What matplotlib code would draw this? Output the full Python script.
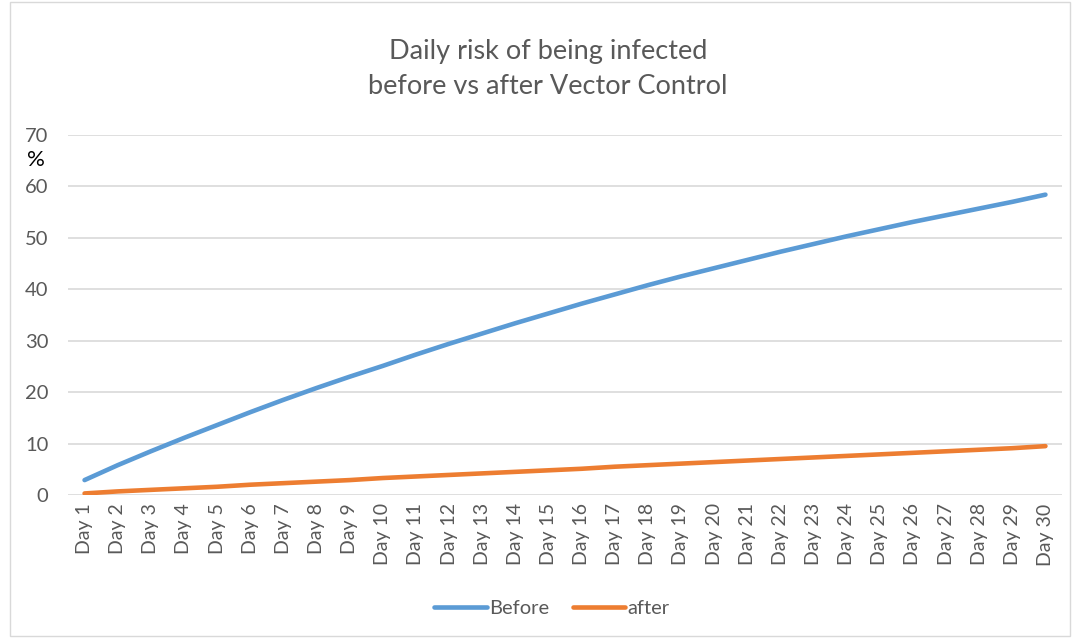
import matplotlib.pyplot as plt
from matplotlib.patches import Rectangle

plt.rcParams['font.family'] = ['Lato', 'DejaVu Sans']

# data
days = ['Day %d' % i for i in range(1, 31)]
before = [2.9, 5.8, 8.5, 11.1, 13.6, 16.1, 18.5, 20.8, 23.0, 25.1,
          27.3, 29.4, 31.4, 33.4, 35.3, 37.2, 39.0, 40.8, 42.5, 44.1,
          45.7, 47.3, 48.8, 50.3, 51.7, 53.1, 54.4, 55.7, 57.0, 58.4]
after = [0.3, 0.7, 1.0, 1.3, 1.6, 2.0, 2.3, 2.6, 2.9, 3.3,
         3.6, 3.9, 4.2, 4.5, 4.8, 5.1, 5.5, 5.8, 6.1, 6.4,
         6.7, 7.0, 7.3, 7.6, 7.9, 8.2, 8.5, 8.8, 9.1, 9.5]
yticks = [0, 10, 20, 30, 40, 50, 60, 70]

grey = '#595959'

fig = plt.figure(figsize=(10.75, 6.39), dpi=100)
ax = fig.add_axes([68 / 1075, 144 / 639, 994 / 1075, 360 / 639])

x = range(len(days))
ax.plot(x, before, color='#5B9BD5', lw=3.3, solid_capstyle='round', label='Before')
ax.plot(x, after, color='#ED7D31', lw=3.3, solid_capstyle='round', label='after')

ax.set_xlim(-0.5, len(days) - 0.5)
ax.set_ylim(0, 70)
ax.set_yticks(yticks)
ax.set_xticks(list(x))
ax.set_xticklabels(days, rotation=90, fontsize=14, color=grey)
ax.tick_params(axis='y', labelsize=14.5, colors=grey, length=0, pad=14)
ax.tick_params(axis='x', length=0, pad=6)
ax.grid(axis='y', color='#d9d9d9', lw=1.2)
ax.set_axisbelow(True)
for s in ax.spines.values():
    s.set_visible(False)

fig.text(548 / 1075, 1 - 69 / 639, 'Daily risk of being infected\nbefore vs after Vector Control',
         ha='center', va='center', fontsize=19.5, color=grey, linespacing=1.45)
fig.text(36 / 1075, 1 - 160 / 639, '%', ha='center', va='center', fontsize=16, color='black')

fig.legend(loc='center', bbox_to_anchor=(552 / 1075, 1 - 608 / 639), ncol=2, frameon=False,
           fontsize=14.5, labelcolor=grey, handlelength=2.6, handletextpad=0.1,
           columnspacing=1.2)

fig.patches.append(Rectangle((10 / 1075, 3 / 639), 1060 / 1075, 634 / 639,
                             transform=fig.transFigure, fill=False,
                             edgecolor='#d9d9d9', lw=1))

plt.savefig('out.png', dpi=100)
